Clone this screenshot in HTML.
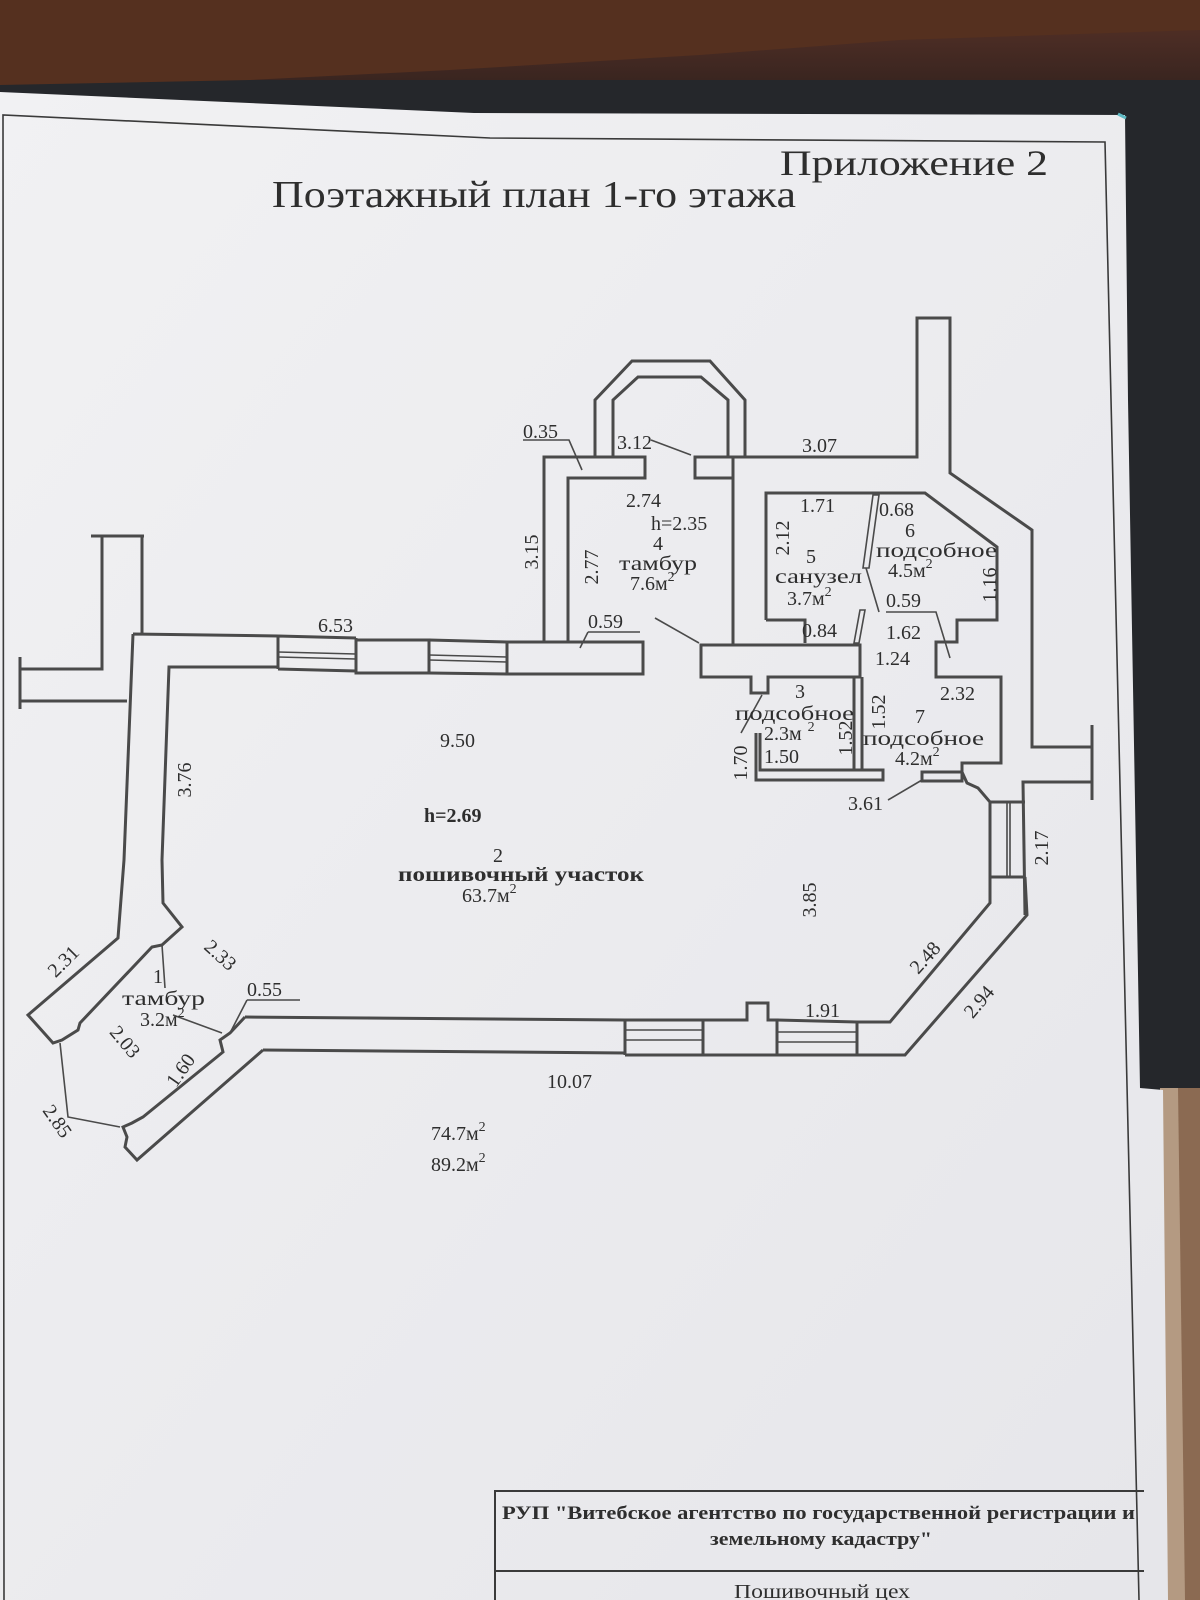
<!DOCTYPE html>
<html><head><meta charset="utf-8"><style>
html,body{margin:0;padding:0;background:#2a2a2c;}
svg{display:block;}
text{font-family:"Liberation Serif","DejaVu Serif",serif;fill:#2e2e2e;}
</style></head><body>
<svg width="1200" height="1600" viewBox="0 0 1200 1600" xmlns="http://www.w3.org/2000/svg">
<defs>
<linearGradient id="bg" x1="0" y1="0" x2="0" y2="1">
<stop offset="0" stop-color="#5a3226"/><stop offset="0.5" stop-color="#4a2c24"/><stop offset="1" stop-color="#3a2520"/>
</linearGradient>
<linearGradient id="paper" x1="0" y1="0" x2="1" y2="1">
<stop offset="0" stop-color="#f1f1f3"/><stop offset="1" stop-color="#e6e6ea"/>
</linearGradient>
</defs>
<rect width="1200" height="1600" fill="#25272b"/>
<rect width="1200" height="80" fill="url(#bg)"/>
<polygon points="0,0 1200,0 1200,30 900,40 700,55 450,70 250,80 0,85" fill="#55301f"/>
<polygon points="1160,1088 1200,1088 1200,1600 1165,1600" fill="#b49a82"/>
<polygon points="1178,1088 1200,1088 1200,1600 1185,1600" fill="#8b6a52"/>
<polygon points="0,92 474,113 1125,115 1128,400 1140,1088 1163,1090 1168,1600 0,1600" fill="url(#paper)"/>
<line x1="1118" y1="114" x2="1126" y2="118" stroke="#5fb9c3" stroke-width="3"/>
<g fill="none" stroke="#3a3a3a" stroke-width="1.6">
<polyline points="4,1600 3,115 490,138 1105,142 1139,1600"/>
</g>
<text x="780" y="175" font-size="36" textLength="268" lengthAdjust="spacingAndGlyphs">Приложение 2</text>
<text x="272" y="207" font-size="38" textLength="524" lengthAdjust="spacingAndGlyphs" fill="#1e1e1e">Поэтажный план 1-го этажа</text>

<g fill="none" stroke="#4a4a4a" stroke-width="3" stroke-linejoin="miter">
<path d="M91,536 L144,536 M102,536 L102,669 L20,669 M142,536 L142,634 M20,701 L127,701 M20,657 L20,709"/>
<path d="M133,634 L278,636 M133,634 L124,860 L118,938 L28,1015 L53,1043 L62,1040 L78,1030 L80,1023 L152,947 L162,945 L182,927 L163,903 L162,860 L169,667 L278,667"/>
<path d="M278,636 L356,638 M278,669 L356,671 M278,636 L278,669 M356,638 L356,671"/>
<rect x="356" y="640" width="73" height="33"/>
<path d="M429,640 L507,642 M429,673 L507,674 M507,642 L507,674"/>
<rect x="507" y="642" width="136" height="32"/>
<path d="M544,643 L544,457 L645,457 L645,478 L568,478 L568,643"/>
<rect x="695" y="457" width="38" height="21"/>
<path d="M595,457 L595,400 L632,361 L710,361 L745,400 L745,457"/>
<path d="M613,457 L613,400 L638,377 L701,377 L728,400 L728,457"/>
<path d="M733,478 L733,645"/>
<path d="M733,457 L917,457 L917,318 L950,318 L950,473 L1032,530 L1032,747 L1092,747 M1092,782 L1023,782 L1025,915"/>
<path d="M1092,725 L1092,800"/>
<path d="M766,620 L766,493 L925,493 L997,547 L997,620 L957,620 L957,642 L936,642 L936,677 L1001,677 L1001,763 L962,763 L962,772 L967,783 L978,788 L990,802 L990,903 L890,1022 L857,1022"/>
<path d="M766,620 L805,620 L805,643"/>
<path d="M701,645 L860,645 L860,677 L768,677 L768,693 L751,693 L751,677 L701,677 Z"/>
<rect x="922" y="772" width="40" height="9"/>
<path d="M990,802 L1025,802 M990,877 L1025,877"/>
<path d="M1025,877 L1027,915 L905,1055 L857,1055"/>
<path d="M760,733 L760,770 L883,770 L883,780 L756,780 L756,733 M854,677 L854,770 M862,677 L862,770"/>
<path d="M245,1017 L625,1020 M263,1050 L625,1053 M625,1020 L625,1055 M703,1020 L703,1055 M625,1055 L703,1055 M625,1020 L703,1020"/>
<path d="M703,1020 L747,1020 L747,1003 L768,1003 L768,1020 L777,1020 L777,1055 L703,1055"/>
<path d="M777,1020 L857,1022 M777,1055 L857,1055 M857,1022 L857,1055"/>
<path d="M245,1017 L230,1033 L220,1040 L223,1052 L143,1117 L132,1123 L123,1127 L127,1137 L125,1147 L137,1160 L263,1050"/>
</g>
<g fill="none" stroke="#4a4a4a" stroke-width="1.6">
<path d="M278,652 L356,654 M278,657 L356,659 M429,655 L507,657 M429,660 L507,662"/>
<path d="M990,802 L990,877 M1007,802 L1007,877 M1010,802 L1010,877"/>
<path d="M625,1030 L703,1030 M625,1040 L703,1040 M777,1032 L857,1032 M777,1042 L857,1042"/>
<path d="M873,495 L863,568 L869,568 L879,495 Z M866,568 L879,612"/>
<path d="M860,610 L854,643 L859,643 L865,610 Z"/>
<path d="M655,618 L699,643"/>
<path d="M523,440 L569,440 L582,470 M651,440 L691,455 M588,632 L640,632 M588,632 L580,648 M886,612 L936,612 L950,658 M762,695 L741,733 M922,780 L888,800"/>
<path d="M60,1043 L68,1117 L120,1127 M162,945 L165,988 M173,1015 L222,1033 M247,1000 L300,1000 M247,1000 L230,1033"/>
</g>

<g font-size="20">
<text x="523" y="438">0.35</text>
<text x="617" y="449">3.12</text>
<text x="802" y="452">3.07</text>
<text x="626" y="507">2.74</text>
<text x="651" y="530">h=2.35</text>
<text x="653" y="550">4</text>
<text x="619" y="570" textLength="78" lengthAdjust="spacingAndGlyphs">тамбур</text>
<text x="630" y="590">7.6м<tspan dy="-9" font-size="14">2</tspan></text>
<text transform="translate(538,552) rotate(-90)" text-anchor="middle">3.15</text>
<text transform="translate(598,567) rotate(-90)" text-anchor="middle">2.77</text>
<text x="588" y="628">0.59</text>
<text x="800" y="512">1.71</text>
<text transform="translate(789,538) rotate(-90)" text-anchor="middle">2.12</text>
<text x="879" y="516">0.68</text>
<text x="905" y="537">6</text>
<text x="876" y="557" textLength="121" lengthAdjust="spacingAndGlyphs">подсобное</text>
<text x="888" y="577">4.5м<tspan dy="-9" font-size="14">2</tspan></text>
<text transform="translate(996,585) rotate(-90)" text-anchor="middle">1.16</text>
<text x="806" y="563">5</text>
<text x="775" y="583" textLength="87" lengthAdjust="spacingAndGlyphs">санузел</text>
<text x="787" y="605">3.7м<tspan dy="-9" font-size="14">2</tspan></text>
<text x="802" y="637">0.84</text>
<text x="886" y="607">0.59</text>
<text x="886" y="639">1.62</text>
<text x="875" y="665">1.24</text>
<text x="940" y="700">2.32</text>
<text transform="translate(885,712) rotate(-90)" text-anchor="middle">1.52</text>
<text x="915" y="723">7</text>
<text x="863" y="745" textLength="121" lengthAdjust="spacingAndGlyphs">подсобное</text>
<text x="895" y="765">4.2м<tspan dy="-9" font-size="14">2</tspan></text>
<text x="795" y="698">3</text>
<text x="735" y="720" textLength="119" lengthAdjust="spacingAndGlyphs">подсобное</text>
<text x="764" y="740">2.3м<tspan dx="6" dy="-9" font-size="14">2</tspan></text>
<text transform="translate(852,738) rotate(-90)" text-anchor="middle">1.52</text>
<text x="764" y="763">1.50</text>
<text transform="translate(747,763) rotate(-90)" text-anchor="middle">1.70</text>
<text x="848" y="810">3.61</text>
<text transform="translate(816,900) rotate(-90)" text-anchor="middle">3.85</text>
<text transform="translate(1048,848) rotate(-90)" text-anchor="middle">2.17</text>
<text transform="translate(930,962) rotate(-48)" text-anchor="middle">2.48</text>
<text transform="translate(984,1006) rotate(-50)" text-anchor="middle">2.94</text>
<text x="805" y="1017">1.91</text>
<text x="318" y="632">6.53</text>
<text x="440" y="747">9.50</text>
<text x="424" y="822" font-weight="bold" fill="#555">h=2.69</text>
<text x="493" y="862">2</text>
<text x="398" y="881" font-weight="bold" textLength="246" lengthAdjust="spacingAndGlyphs">пошивочный участок</text>
<text x="462" y="902">63.7м<tspan dy="-9" font-size="14">2</tspan></text>
<text transform="translate(191,780) rotate(-90)" text-anchor="middle">3.76</text>
<text transform="translate(68,966) rotate(-45)" text-anchor="middle">2.31</text>
<text transform="translate(216,960) rotate(42)" text-anchor="middle">2.33</text>
<text x="153" y="983">1</text>
<text x="122" y="1005" textLength="83" lengthAdjust="spacingAndGlyphs">тамбур</text>
<text x="140" y="1026">3.2м<tspan dy="-9" font-size="14">2</tspan></text>
<text x="247" y="996">0.55</text>
<text transform="translate(120,1046) rotate(50)" text-anchor="middle">2.03</text>
<text transform="translate(186,1074) rotate(-55)" text-anchor="middle">1.60</text>
<text transform="translate(52,1125) rotate(55)" text-anchor="middle">2.85</text>
<text x="547" y="1088">10.07</text>
<text x="431" y="1140">74.7м<tspan dy="-9" font-size="14">2</tspan></text>
<text x="431" y="1171">89.2м<tspan dy="-9" font-size="14">2</tspan></text>
</g>

<g fill="none" stroke="#3a3a3a" stroke-width="2">
<polyline points="495,1600 495,1491 1144,1491"/>
<line x1="495" y1="1571" x2="1144" y2="1571"/>
</g>
<text x="502" y="1519" font-size="19" font-weight="bold" fill="#333" textLength="633" lengthAdjust="spacingAndGlyphs">РУП "Витебское агентство по государственной регистрации и</text>
<text x="710" y="1545" font-size="19" font-weight="bold" fill="#333" textLength="222" lengthAdjust="spacingAndGlyphs">земельному кадастру"</text>
<text x="734" y="1598" font-size="20" fill="#333" textLength="176" lengthAdjust="spacingAndGlyphs">Пошивочный цех</text>
</svg>
</body></html>
